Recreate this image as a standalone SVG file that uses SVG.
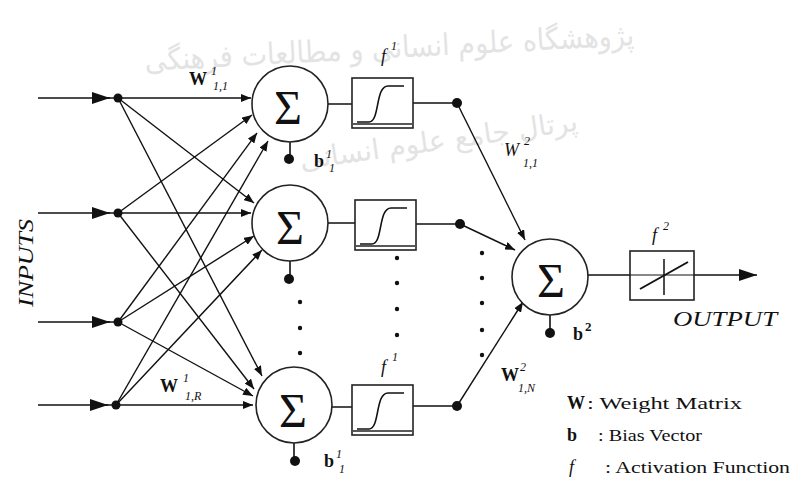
<svg xmlns="http://www.w3.org/2000/svg" width="791" height="481" viewBox="0 0 791 481">
<style>
.ln{stroke:#111;stroke-width:1.6;fill:none}
.cn{stroke:#111;stroke-width:1.4;fill:none}
.nd{fill:#fff;stroke:#222;stroke-width:1.6}
.dot{fill:#111}
.sg{font-family:"Liberation Serif","Times New Roman",serif;font-size:48px;fill:#111;text-anchor:middle}
.t{font-family:"Liberation Serif","Times New Roman",serif;fill:#111}
.b{font-weight:bold;font-size:18px}
.i{font-style:italic}
.s{font-size:12px;font-style:italic}
.wm{font-family:"DejaVu Sans","Noto Sans",sans-serif;fill:#e3e3e3;text-anchor:middle}
</style>
<defs>
<marker id="ah" viewBox="0 0 10 8" refX="10" refY="4" markerWidth="10" markerHeight="8" markerUnits="userSpaceOnUse" orient="auto">
<path d="M0,0 L10,4 L0,8 Z" fill="#111"/>
</marker>
<marker id="big" viewBox="0 0 18 12" refX="18" refY="6" markerWidth="18" markerHeight="12" markerUnits="userSpaceOnUse" orient="auto">
<path d="M0,0 L18,6 L0,12 Z" fill="#111"/>
</marker>
<g id="sig">
<rect x="0" y="0" width="61" height="50" fill="#fff" stroke="#222" stroke-width="1.6"/>
<line x1="1" y1="46" x2="60" y2="46" stroke="#222" stroke-width="1.3"/>
<path d="M5,44 H17 C28,44 23,8 36,8 H52" fill="none" stroke="#111" stroke-width="1.6"/>
</g>
</defs>
<rect width="791" height="481" fill="#fff"/>

<g id="watermark">
<text class="wm" x="390" y="58" font-size="30" textLength="490" lengthAdjust="spacingAndGlyphs" transform="rotate(-3 390 58)">پژوهشگاه علوم انسانی و مطالعات فرهنگی</text>
<text class="wm" x="440" y="150" font-size="28" transform="rotate(-8 440 150)">پرتال جامع علوم انسانی</text>
</g>

<g id="connectors">
<path class="ln" d="M38,98 H110" marker-end="url(#big)"/>
<path class="ln" d="M38,213 H110" marker-end="url(#big)"/>
<path class="ln" d="M38,322 H110" marker-end="url(#big)"/>
<path class="ln" d="M38,405 H108" marker-end="url(#big)"/>
<path class="ln" d="M108,98 H118 M108,213 H118 M108,322 H118 M106,405 H116"/>
<g marker-end="url(#ah)">
<path class="cn" d="M118,98 L251,98"/>
<path class="cn" d="M118,213 L252,115"/>
<path class="cn" d="M118,322 L257,133"/>
<path class="cn" d="M116,405 L268,141"/>
<path class="cn" d="M118,98 L254,203"/>
<path class="cn" d="M118,213 L251,213"/>
<path class="cn" d="M118,322 L254,236"/>
<path class="cn" d="M116,405 L262,250"/>
<path class="cn" d="M118,98 L262,376"/>
<path class="cn" d="M118,213 L254,389"/>
<path class="cn" d="M118,322 L253,396"/>
<path class="cn" d="M116,405 L253,405"/>
<path class="cn" d="M457,103 L525,240"/>
<path class="cn" d="M460,224 L515,250"/>
<path class="cn" d="M457,406 L523,302"/>
</g>
<path class="ln" d="M328,104 H352 M413,103 H457"/>
<path class="ln" d="M328,223 H355 M416,224 H460"/>
<path class="ln" d="M332,407 H352 M413,406 H457"/>
<path class="ln" d="M588,275 H630"/>
<path class="ln" d="M694,275 H757" marker-end="url(#big)"/>
<path class="ln" d="M290,142 V158 M290,261 V279 M294,443 V460 M550,315 V332"/>
</g>

<g id="input-dots">
<circle class="dot" cx="118" cy="98" r="4.5"/>
<circle class="dot" cx="118" cy="213" r="4.5"/>
<circle class="dot" cx="118" cy="322" r="4.5"/>
<circle class="dot" cx="116" cy="405" r="4.5"/>
</g>

<g id="neuron1">
<circle class="nd" cx="290" cy="104" r="38"/>
<text class="sg" x="288" y="124">Σ</text>
<circle class="dot" cx="289" cy="159" r="5"/>
</g>
<g id="neuron2">
<circle class="nd" cx="290" cy="223" r="38"/>
<text class="sg" x="290" y="244">Σ</text>
<circle class="dot" cx="289" cy="279" r="5"/>
</g>
<g id="neuron3">
<circle class="nd" cx="294" cy="405" r="38"/>
<text class="sg" x="293" y="427">Σ</text>
<circle class="dot" cx="295" cy="461" r="5"/>
</g>
<g id="neuron-out">
<circle class="nd" cx="550" cy="277" r="38"/>
<text class="sg" x="551" y="297">Σ</text>
<circle class="dot" cx="550" cy="333" r="5"/>
</g>

<g id="act1"><use href="#sig" x="352" y="78"/><circle class="dot" cx="457" cy="103" r="5"/></g>
<g id="act2"><use href="#sig" x="355" y="200"/><circle class="dot" cx="460" cy="224" r="5"/></g>
<g id="act3"><use href="#sig" x="352" y="385"/><circle class="dot" cx="457" cy="406" r="5"/></g>
<g id="act-out">
<rect x="630" y="251" width="64" height="49" fill="none" stroke="#222" stroke-width="1.6"/>
<line x1="630" y1="275" x2="694" y2="275" stroke="#111" stroke-width="1"/>
<line x1="664" y1="259" x2="664" y2="295" stroke="#111" stroke-width="1.5"/>
<line x1="640" y1="289" x2="688" y2="262" stroke="#111" stroke-width="2"/>
</g>

<g id="ellipses" class="dot">
<circle cx="300" cy="302" r="2.2"/><circle cx="300" cy="328" r="2.2"/><circle cx="300" cy="353" r="2.2"/>
<circle cx="397" cy="258" r="2.2"/><circle cx="397" cy="283" r="2.2"/><circle cx="397" cy="309" r="2.2"/><circle cx="397" cy="335" r="2.2"/>
<circle cx="482" cy="253" r="2.2"/><circle cx="482" cy="278" r="2.2"/><circle cx="482" cy="303" r="2.2"/><circle cx="482" cy="330" r="2.2"/><circle cx="482" cy="355" r="2.2"/>
</g>

<g id="labels">
<text class="t" x="33" y="263" font-size="21" font-style="italic" text-anchor="middle" textLength="88" lengthAdjust="spacingAndGlyphs" transform="rotate(-90 33 263)">INPUTS</text>
<text class="t b" x="189" y="85">W</text><text class="t s" x="211" y="75">1</text><text class="t s" x="213" y="90">1,1</text>
<text class="t b" x="160" y="392">W</text><text class="t s" x="183" y="382">1</text><text class="t s" x="185" y="400">1,R</text>
<text class="t b" x="314" y="167">b</text><text class="t s" x="326" y="158">1</text><text class="t s" x="329" y="172">1</text>
<text class="t b" x="324" y="467">b</text><text class="t s" x="336" y="458">1</text><text class="t s" x="339" y="473">1</text>
<text class="t i" x="381" y="62" font-size="18">f</text><text class="t s" x="391" y="50">1</text>
<text class="t i" x="381" y="373" font-size="18">f</text><text class="t s" x="392" y="361">1</text>
<text class="t i" x="504" y="156" font-size="18">W</text><text class="t s" x="524" y="145">2</text><text class="t s" x="523" y="167">1,1</text>
<text class="t b" x="501" y="381">W</text><text class="t s" x="520" y="371">2</text><text class="t s" x="518" y="392">1,N</text>
<text class="t b" x="573" y="340">b</text><text class="t" x="585" y="331" font-size="13" font-weight="bold">2</text>
<text class="t i" x="652" y="241" font-size="18">f</text><text class="t s" x="663" y="230">2</text>
<text class="t i" x="673" y="326" font-size="20" textLength="104" lengthAdjust="spacingAndGlyphs">OUTPUT</text>
</g>

<g id="legend">
<text class="t b" x="567" y="409">W</text><text class="t" x="587" y="409" font-size="16" textLength="155" lengthAdjust="spacingAndGlyphs">: Weight Matrix</text>
<text class="t b" x="567" y="441">b</text><text class="t" x="598" y="441" font-size="16" textLength="104" lengthAdjust="spacingAndGlyphs">: Bias Vector</text>
<text class="t i" x="569" y="473" font-size="18">f</text><text class="t" x="605" y="473" font-size="16" textLength="185" lengthAdjust="spacingAndGlyphs">: Activation Function</text>
</g>
</svg>
